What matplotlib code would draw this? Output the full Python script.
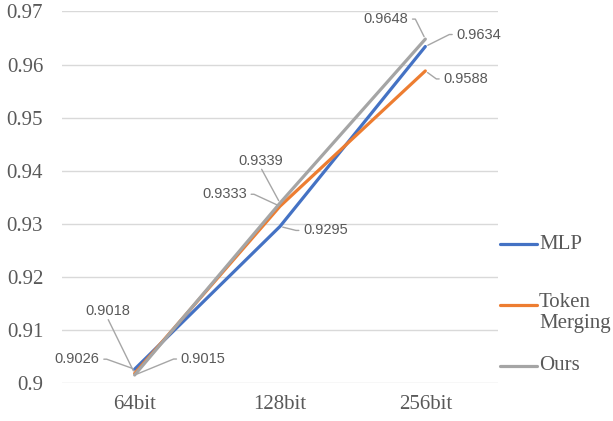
import matplotlib
matplotlib.use("Agg")
import matplotlib.pyplot as plt
from matplotlib.lines import Line2D

# data
bits = ["64bit", "128bit", "256bit"]
mlp = [0.9026, 0.9295, 0.9634]
token_merging = [0.9018, 0.9333, 0.9588]
ours = [0.9015, 0.9339, 0.9648]

series_names = ["MLP", "Token\nMerging", "Ours"]
series_values = [mlp, token_merging, ours]
series_colors = ["#4472C4", "#ED7D31", "#A5A5A5"]

COR_TEXTO = "#595959"
COR_GRADE = "#D9D9D9"
COR_GUIA = "#A6A6A6"

fig = plt.figure(figsize=(6.13, 4.21), dpi=100, facecolor="white")
ax = fig.add_axes([0.1011, 0.0903, 0.7113, 0.8824])

x = list(range(len(bits)))
for vals, cor in zip(series_values, series_colors):
    ax.plot(x, vals, color=cor, lw=2.3, solid_capstyle="round",
            solid_joinstyle="round", zorder=3)

ax.set_xlim(-0.5, len(bits) - 0.5)
ax.set_ylim(0.9, 0.97)
ax.set_yticks([0.9, 0.91, 0.92, 0.93, 0.94, 0.95, 0.96, 0.97])
ax.set_yticklabels(["0.9", "0.91", "0.92", "0.93", "0.94", "0.95", "0.96", "0.97"])
ax.set_xticks(x)
ax.set_xticklabels(bits)

for s in ax.spines.values():
    s.set_visible(False)
ax.grid(axis="y", color=COR_GRADE, lw=1)
ax.set_axisbelow(True)

ax.tick_params(axis="both", length=0, labelcolor=COR_TEXTO, labelsize=15)
ax.tick_params(axis="y", pad=13.5)
ax.tick_params(axis="x", pad=9)
for t in ax.get_xticklabels() + ax.get_yticklabels():
    t.set_fontfamily("Liberation Serif")

# rótulos com linhas guia: (serie, ponto, dx, dy em pixels, alinhamento, tipo de guia)
rotulos = [
    (0, 0, -35, 10, "right", "h"),
    (1, 0, -27, 62, "center", "s"),
    (2, 0, 46, 16, "left", "h"),
    (0, 1, 23, -4, "left", "h"),
    (1, 1, -33, 12, "right", "h"),
    (2, 1, -19, 42, "center", "s"),
    (2, 2, -17, 20, "right", "h"),
    (0, 2, 31, 12, "left", "h"),
    (1, 2, 18, -8, "left", "h"),
]

for si, pi, dx, dy, ha, tipo in rotulos:
    valor = series_values[si][pi]
    if tipo == "s":
        props = dict(arrowstyle="-", color=COR_GUIA, lw=1, patchA=None,
                     relpos=(0.5, 0.0), shrinkA=1, shrinkB=2)
    else:
        ang = 180 if ha == "left" else 0
        rel = (0.0, 0.5) if ha == "left" else (1.0, 0.5)
        props = dict(arrowstyle="-", color=COR_GUIA, lw=1, patchA=None,
                     relpos=rel, shrinkA=3, shrinkB=2,
                     connectionstyle=f"arc,angleA={ang},armA=7,angleB=0,armB=0,rad=0")
    ax.annotate(f"{valor:.4f}", xy=(pi, valor), xytext=(dx, dy),
                textcoords="offset pixels", ha=ha, va="center",
                fontsize=10.5, color=COR_TEXTO, family="Liberation Sans",
                arrowprops=props, zorder=4)

# legenda manual à direita
leg_y = [244, 305, 366]
for nome, cor, yy in zip(series_names, series_colors, leg_y):
    yf = 1 - yy / 421
    fig.add_artist(Line2D([500 / 613, 537 / 613], [yf, yf], color=cor, lw=2.3,
                          solid_capstyle="round", transform=fig.transFigure))
    if "\n" in nome:
        # primeira linha centrada na linha da legenda
        fig.text(539 / 613, 1 - (yy - 12) / 421, nome, ha="left", va="top",
                 fontsize=15, color=COR_TEXTO, family="Liberation Serif",
                 linespacing=1.15)
    else:
        fig.text(539 / 613, yf, nome, ha="left", va="center",
                 fontsize=15, color=COR_TEXTO, family="Liberation Serif")

plt.savefig("out.png", dpi=100, facecolor="white")
